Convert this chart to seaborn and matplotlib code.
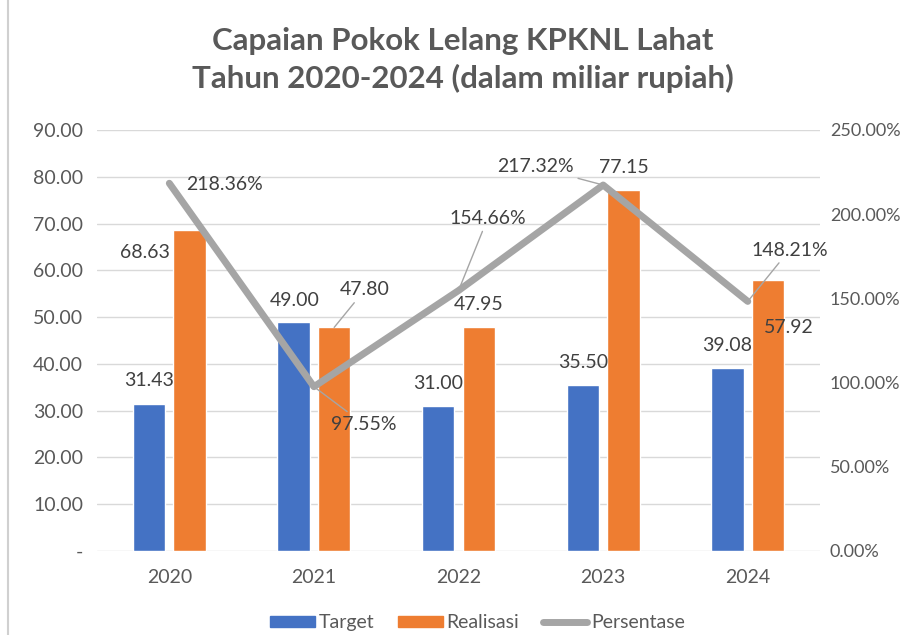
import numpy as np
import pandas as pd
import matplotlib
matplotlib.use("Agg")
import matplotlib.pyplot as plt
import seaborn as sns
from matplotlib.patches import Patch
from matplotlib.lines import Line2D

years = ["2020", "2021", "2022", "2023", "2024"]
target = [31.43, 49.00, 31.00, 35.50, 39.08]
realisasi = [68.63, 47.80, 47.95, 77.15, 57.92]
persentase = [218.36, 97.55, 154.66, 217.32, 148.21]

left_ticks = [0, 10, 20, 30, 40, 50, 60, 70, 80, 90]
right_ticks = [0, 50, 100, 150, 200, 250]

# label offsets (points) from the top of each bar / each line point
target_off = [(0, 17), (1, 15), (0, 16), (0, 16), (0, 16)]
real_off = [(-32, -16), (22, 27), (0, 16), (0, 16), (15, -34)]
real_leader = [False, True, False, False, False]
pct_off = [(40, -1), (36, -27), (21, 52), (-49, 13), (30, 37)]
pct_leader = [False, True, True, True, True]

blue = "#4472C4"
orange = "#EE7D31"
grey = "#A5A5A5"
txt = "#404040"
tick_col = "#595959"
fs = 14

sns.set_theme(style="white")
plt.rcParams["font.family"] = ["Lato", "DejaVu Sans"]

df = pd.DataFrame({
    "Tahun": years * 2,
    "Nilai": target + realisasi,
    "Seri": ["Target"] * 5 + ["Realisasi"] * 5,
})

fig = plt.figure(figsize=(9.17, 6.35), dpi=100)
ax = fig.add_axes([0.1058, 0.1323, 0.7885, 0.663])

sns.barplot(data=df, x="Tahun", y="Nilai", hue="Seri", palette=[blue, orange],
            saturation=1, width=0.56, gap=0.2, ax=ax, legend=False, zorder=2)

ax.set_ylim(0, 90)
ax.set_xlim(-0.5, 4.5)
ax.set_yticks(left_ticks)
ax.set_yticklabels(["-"] + [f"{v:.2f}" for v in left_ticks[1:]])
ax.grid(axis="y", color="#D9D9D9", linewidth=1, zorder=0)
ax.set_axisbelow(True)
for s in ax.spines.values():
    s.set_visible(False)
ax.set_xlabel("")
ax.set_ylabel("")
ax.tick_params(axis="y", length=0, labelsize=fs, colors=tick_col, pad=10)
ax.tick_params(axis="x", length=0, labelsize=fs, colors=tick_col, pad=13)

leader = dict(arrowstyle="-", color=grey, lw=1, shrinkA=1, shrinkB=0)

# bar labels
for bar, v, off in zip(ax.containers[0], target, target_off):
    ax.annotate(f"{v:.2f}", (bar.get_x() + bar.get_width() / 2, bar.get_height()),
                xytext=off, textcoords="offset points", ha="center", va="center",
                fontsize=fs, color=txt)
for bar, v, off, lead in zip(ax.containers[1], realisasi, real_off, real_leader):
    kw = {"arrowprops": leader} if lead else {}
    ax.annotate(f"{v:.2f}", (bar.get_x() + bar.get_width() / 2, bar.get_height()),
                xytext=off, textcoords="offset points", ha="center", va="center",
                fontsize=fs, color=txt, **kw)

ax2 = ax.twinx()
sns.lineplot(x=np.arange(len(years)), y=persentase, color=grey, linewidth=5,
             ax=ax2, zorder=3)
ax2.set_ylim(0, 250)
ax2.set_yticks(right_ticks)
ax2.set_yticklabels([f"{v:.2f}%" for v in right_ticks])
for s in ax2.spines.values():
    s.set_visible(False)
ax2.tick_params(axis="y", length=0, labelsize=13, colors=tick_col, pad=7)
ax2.grid(False)

for i, (v, off, lead) in enumerate(zip(persentase, pct_off, pct_leader)):
    kw = {"arrowprops": leader} if lead else {}
    ax2.annotate(f"{v:.2f}%", (i, v), xytext=off, textcoords="offset points",
                 ha="center", va="center", fontsize=fs, color=txt, **kw)

fig.suptitle("Capaian Pokok Lelang KPKNL Lahat\nTahun 2020-2024 (dalam miliar rupiah)",
             x=0.505, y=0.9055, va="center", fontsize=22.5, fontweight="bold",
             color="#595959", linespacing=1.34)

handles = [Patch(color=blue, label="Target"),
           Patch(color=orange, label="Realisasi"),
           Line2D([0], [0], color=grey, lw=5, label="Persentase")]
fig.legend(handles=handles, loc="center", bbox_to_anchor=(0.521, 0.019), ncol=3,
           frameon=False, fontsize=fs, handlelength=2.3, handleheight=0.5,
           columnspacing=1.2, handletextpad=0.2, labelcolor=tick_col)

# thin frame line at the left edge
fig.add_artist(Line2D([0.009, 0.009], [0, 1], color="#D0D0D0", lw=1.5))

fig.savefig("out.png", dpi=100)
